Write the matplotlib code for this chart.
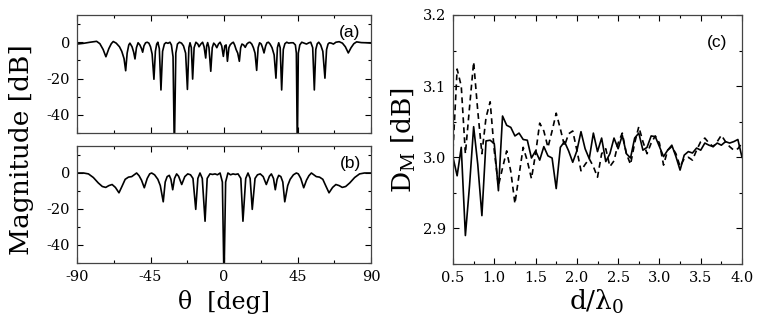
import numpy as np
import matplotlib
matplotlib.use("Agg")
import matplotlib.pyplot as plt
from matplotlib.ticker import MultipleLocator

plt.rcParams['font.family'] = ['DejaVu Serif']
plt.rcParams['mathtext.fontset'] = 'dejavuserif'

# ---------------- data ----------------
theta_a = [-90, -86, -82, -78, -76, -74, -72.3, -70.5, -69, -67.8,
           -66, -64, -62.6, -61.2, -60.2, -59.3, -58.3, -57.6, -56.3, -55.3,
           -54.5, -53.6, -52.6, -51.5, -50.5, -49.8, -49, -48, -47, -46,
           -45, -44, -42.9, -42, -41.2, -40.5, -39.6, -38.6, -37.6, -36.5,
           -35.5, -34.3, -33.1, -32.2, -31.2, -30.4, -29.5, -28.5, -27.3, -26,
           -24.8, -23.5, -22.4, -21.5, -20.8, -20, -19.2, -18.3, -17.2, -16,
           -15.3, -14.2, -13.1, -12.2, -11.2, -10.6, -10, -9.2, -8.1, -7.2,
           -6.3, -5.3, -4.4, -3.4, -2.4, -1.4, -0.4, 0.5, 1.3, 2.1,
           3, 3.8, 4.8, 5.7, 6.5, 7.4, 8.4, 9.4, 10.2, 11,
           12, 13, 14, 15, 15.9, 17, 18, 19, 20, 20.9,
           21.8, 22.8, 23.6, 24.5, 25.5, 26.3, 27.2, 28.2, 29.4, 30.7,
           31.8, 32.7, 33.5, 34.4, 35.3, 36.3, 37.3, 38.4, 39.6, 41,
           42.4, 43.7, 44.3, 44.9, 45.5, 46.4, 47.6, 49, 50.5, 52,
           53.1, 54.3, 55.3, 56.2, 57.1, 58, 59.2, 60.5, 61.8, 62.8,
           63.7, 64.5, 65.7, 67, 68.5, 70.5, 72.5, 74.3, 76.1, 77.8,
           79.5, 81.2, 84, 87, 90]
mag_a = [-1.0, -0.6, 0.0, 0.5, -0.8, -4.0, -8.0, -3.5, -0.8, 0.4,
         -0.5, -2.5, -5.0, -9.0, -15.7, -6.0, -1.5, -0.5, -2.5, -5.5,
         -9.2, -3.0, -0.3, -1.5, -3.5, -5.5, -2.0, -0.3, 0.0, -0.5,
         -2.5, -6.5, -20.4, -5.0, -1.0, 0.0, -3.5, -26.3, -5.0, -1.0,
         -0.2, -0.6, 0.0, -1.5, -8.0, -60, -6.0, -1.0, 0.0, -0.5,
         -2.0, -6.0, -26.0, -3.0, -0.3, -3.0, -20.3, -3.0, 0.0, -1.0,
         -2.5, -1.0, 0.0, -2.5, -8.7, -2.0, -0.2, -3.0, -16.0, -3.0,
         -0.5, -1.5, -3.0, -1.0, 0.0, -2.0, -7.8, -2.0, -1.5, -10.5,
         -3.0, -1.4, -0.5, 0.0, -1.5, -4.0, -6.0, -10.5, -3.0, -1.0,
         -1.5, -2.8, -1.0, -0.2, 0.0, -1.0, -3.0, -6.0, -15.5, -3.0,
         -0.3, -1.0, -3.0, -5.9, -2.0, -0.3, 0.0, -1.0, -3.0, -7.0,
         -19.8, -3.0, -0.3, -3.0, -26.3, -4.0, -0.8, 0.0, -0.5, -0.3,
         -0.3, -1.5, -6.0, -60, -6.0, -1.5, 0.0, -0.5, -1.0, -0.3,
         0.0, -3.0, -26.3, -4.0, -0.8, 0.0, -1.5, -5.0, -19.8, -4.0,
         -1.0, -0.3, -0.5, -1.0, 0.0, 0.3, -0.5, -2.5, -5.9, -3.0,
         -0.8, 0.2, -0.2, -0.3, -0.5]

theta_b = [-90, -86, -83, -80, -77, -74.5, -72.4, -70.5, -68.5, -66.5,
           -64.3, -62.5, -60.5, -58.5, -56.5, -55, -53.5, -52, -50.5, -48.8,
           -47, -45.5, -44.3, -42.5, -40.5, -39, -37.2, -36, -34.8, -33.5,
           -32.5, -31.4, -30.3, -29, -27.8, -25.9, -24, -22.2, -20.5, -19,
           -17.3, -16, -14.7, -13.3, -11.6, -10.3, -8.6, -7, -5.5, -4,
           -2.4, -1, 0,
           1, 2.4, 4, 5.5, 7, 8.6, 10.3, 11.6, 13.3, 14.7,
           16, 17.3, 19, 20.5, 22.2, 24, 25.9, 27.8, 29, 30.3,
           31.4, 32.5, 33.5, 34.8, 36, 37.2, 39, 40.5, 42.5, 44.3,
           45.5, 47, 48.8, 50.5, 52, 53.5, 55, 56.5, 58.5, 60.5,
           62.5, 64.3, 66.5, 68.5, 70.5, 72.4, 74.5, 77, 80, 83,
           86, 90]
mag_b = [0.0, 0.0, -0.5, -2.5, -5.5, -7.5, -8.0, -7.0, -6.4, -8.0,
         -11.0, -7.5, -3.5, -2.3, -2.0, -1.0, 0.0, -1.5, -4.0, -8.2,
         -3.0, -0.5, 0.0, -1.0, -3.5, -7.0, -16.0, -5.0, -2.0, -1.3,
         -3.5, -9.3, -3.0, -0.5, -1.8, -6.4, -2.0, -0.5, -1.0, -3.0,
         -20.2, -3.0, 0.0, -3.0, -26.8, -3.0, -0.5, -0.8, -0.5, -1.0,
         0.0, -5.0, -60,
         -5.0, 0.0, -1.0, -0.5, -0.8, -0.5, -3.0, -26.8, -3.0, 0.0,
         -3.0, -20.2, -3.0, -1.0, -0.5, -2.0, -6.4, -1.8, -0.5, -3.0,
         -9.3, -3.5, -1.3, -2.0, -5.0, -16.0, -7.0, -3.5, -1.0, 0.0,
         -0.5, -3.0, -8.2, -4.0, -1.5, 0.0, -1.0, -2.0, -2.3, -3.5,
         -7.5, -11.0, -8.0, -6.4, -7.0, -8.0, -7.5, -5.5, -2.5, -0.5,
         0.0, 0.0]

d_ratio = [0.50, 0.55, 0.60, 0.65, 0.70, 0.75, 0.80, 0.85, 0.90, 0.95,
           1.00, 1.05, 1.10, 1.15, 1.20, 1.25, 1.30, 1.35, 1.40, 1.45,
           1.50, 1.55, 1.60, 1.65, 1.70, 1.75, 1.80, 1.85, 1.90, 1.95,
           2.00, 2.05, 2.10, 2.15, 2.20, 2.25, 2.30, 2.35, 2.40, 2.45,
           2.50, 2.55, 2.60, 2.65, 2.70, 2.75, 2.80, 2.85, 2.90, 2.95,
           3.00, 3.05, 3.10, 3.15, 3.20, 3.25, 3.30, 3.35, 3.40, 3.45,
           3.50, 3.55, 3.60, 3.65, 3.70, 3.75, 3.80, 3.85, 3.90, 3.95,
           4.00]
dm_solid = [3.000, 2.974, 3.014, 2.890, 2.960, 3.043, 2.990, 2.918, 3.023, 3.024,
            3.019, 2.953, 3.058, 3.045, 3.042, 3.030, 3.034, 3.025, 3.024, 2.999,
            3.009, 2.996, 3.015, 3.002, 2.999, 2.956, 3.014, 3.022, 3.009, 2.993,
            3.009, 3.036, 3.012, 2.998, 3.034, 3.008, 3.027, 2.994, 3.005, 3.027,
            3.012, 3.031, 3.005, 2.999, 3.027, 3.034, 3.010, 3.014, 3.030, 3.029,
            3.015, 3.001, 3.010, 3.017, 3.001, 2.982, 3.003, 3.008, 3.006, 3.013,
            3.010, 3.020, 3.017, 3.015, 3.020, 3.017, 3.022, 3.020, 3.022, 3.025,
            3.000]
dm_dashed = [3.010, 3.124, 3.100, 3.005, 3.070, 3.134, 3.065, 3.005, 3.056, 3.078,
             3.009, 2.960, 2.985, 3.009, 2.980, 2.935, 2.975, 3.014, 2.995, 2.970,
             3.005, 3.048, 3.037, 3.014, 3.037, 3.062, 3.040, 3.016, 3.033, 3.037,
             3.010, 2.981, 2.990, 2.998, 2.987, 2.972, 3.005, 3.012, 2.987, 2.995,
             3.020, 3.034, 3.005, 2.990, 3.020, 3.043, 3.022, 3.005, 3.020, 3.030,
             3.020, 2.989, 3.010, 3.015, 3.005, 2.987, 2.998, 3.000, 2.996, 3.010,
             3.022, 3.027, 3.020, 3.015, 3.022, 3.031, 3.022, 3.015, 3.010, 3.012,
             3.020]

assert len(theta_a) == len(mag_a)
assert len(theta_b) == len(mag_b)
assert len(d_ratio) == len(dm_solid) == len(dm_dashed)

# ---------------- figure ----------------
W, H = 763, 330
fig = plt.figure(figsize=(W / 100, H / 100), dpi=100)

def fx(px):
    return px / W

def fy(py):
    return 1 - py / H

ax_a = fig.add_axes([fx(77), fy(133), fx(371 - 77), (133 - 15) / H])
ax_b = fig.add_axes([fx(77), fy(263), fx(371 - 77), (263 - 146) / H])
ax_c = fig.add_axes([fx(453), fy(264), fx(742 - 453), (264 - 15) / H])

def style(ax):
    ax.tick_params(which='both', direction='in', top=True, right=True,
                   labelsize=10.5, width=0.8, pad=5)
    ax.tick_params(which='major', length=4)
    ax.tick_params(which='minor', length=2.5)
    for s in ax.spines.values():
        s.set_linewidth(0.9)
        s.set_color('#444444')

for ax, th, mg, lab in [(ax_a, theta_a, mag_a, '(a)'), (ax_b, theta_b, mag_b, '(b)')]:
    ax.plot(th, mg, color='black', lw=1.2)
    ax.set_xlim(-90, 90)
    ax.set_ylim(-50, 15)
    ax.xaxis.set_major_locator(MultipleLocator(45))
    ax.xaxis.set_minor_locator(MultipleLocator(22.5))
    ax.yaxis.set_minor_locator(MultipleLocator(10))
    ax.set_yticks([0, -20, -40])
    ax.set_yticklabels(['0', '-20', '-40'])
    style(ax)
    ax.text(0.965, 0.85, lab, transform=ax.transAxes, ha='right', va='center',
            fontsize=12.5, family='Liberation Sans')

ax_a.tick_params(labelbottom=False)
ax_b.set_xticks([-90, -45, 0, 45, 90])
ax_b.set_xticklabels(['-90', '-45', '0', '45', '90'])

ax_c.plot(d_ratio, dm_solid, color='black', lw=1.2)
ax_c.plot(d_ratio, dm_dashed, color='black', lw=1.2, linestyle=(0, (3.5, 2.5)))
ax_c.set_xlim(0.5, 4.0)
ax_c.set_ylim(2.85, 3.2)
ax_c.xaxis.set_major_locator(MultipleLocator(0.5))
ax_c.xaxis.set_minor_locator(MultipleLocator(0.25))
ax_c.set_yticks([2.9, 3.0, 3.1, 3.2])
ax_c.yaxis.set_minor_locator(MultipleLocator(0.05))
ax_c.xaxis.set_major_formatter(matplotlib.ticker.FormatStrFormatter('%.1f'))
ax_c.yaxis.set_major_formatter(matplotlib.ticker.FormatStrFormatter('%.1f'))
style(ax_c)
ax_c.text(0.95, 0.89, '(c)', transform=ax_c.transAxes, ha='right', va='center',
          fontsize=12.5, family='Liberation Sans')

fig.text(fx(22), fy(150), 'Magnitude [dB]', rotation=90, ha='center', va='center',
         fontsize=19)
fig.text(fx(224), fy(302), 'θ  [deg]', ha='center', va='center', fontsize=17)
fig.text(fx(404), fy(140), r'D$_{\mathrm{M}}$ [dB]', rotation=90, ha='center',
         va='center', fontsize=19)
fig.text(fx(597), fy(302), r'd/λ$_{0}$', ha='center', va='center', fontsize=19)

fig.savefig('out.png', dpi=100)
